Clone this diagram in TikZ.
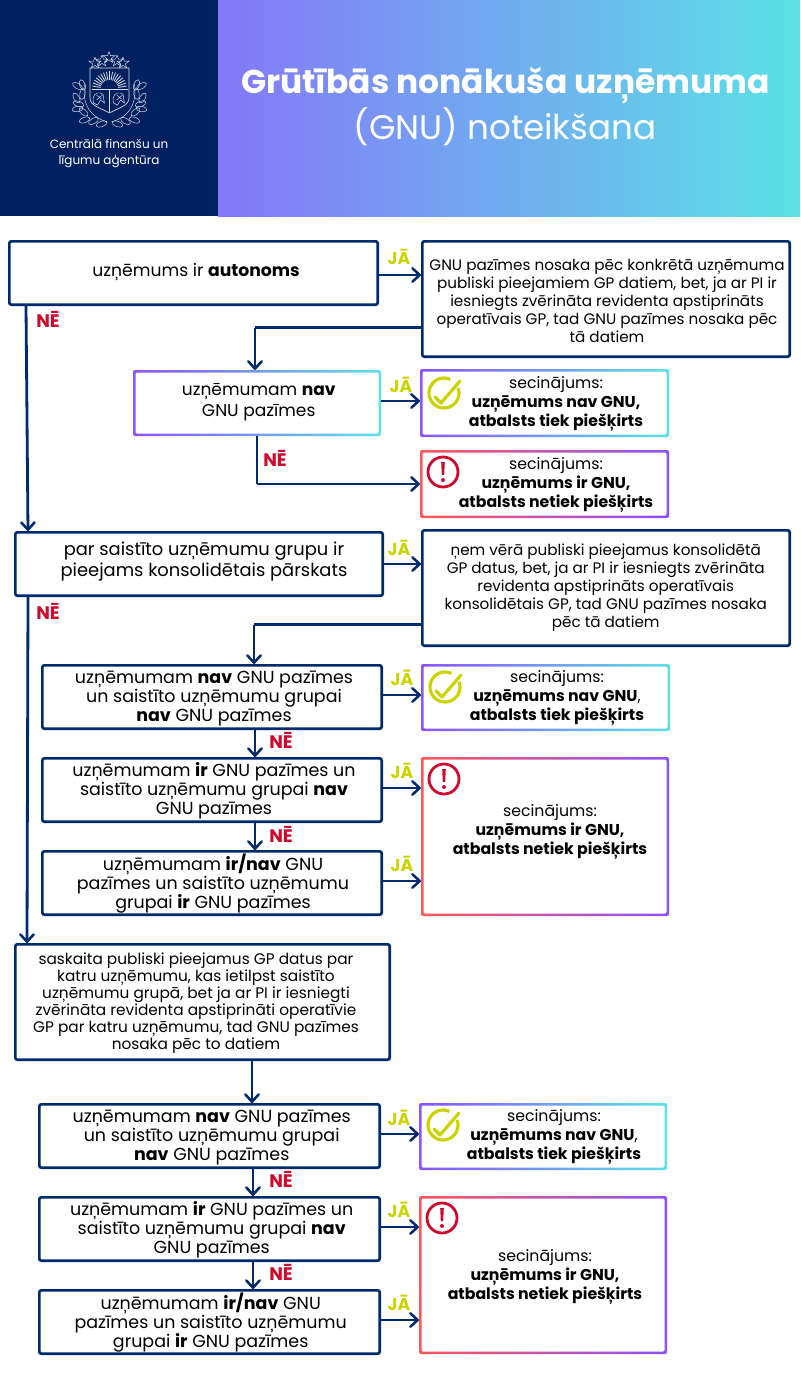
\documentclass[tikz,border=0pt]{standalone}
\usepackage{fontspec}
\setmainfont{Poppins}
\usetikzlibrary{arrows.meta}
\definecolor{navy}{HTML}{002060}
\definecolor{line}{HTML}{002A6E}
\definecolor{ja}{HTML}{CBD400}
\definecolor{ne}{HTML}{CE0A2C}
\definecolor{gp}{HTML}{8C52FF}
\definecolor{gc}{HTML}{5CE1E6}
\definecolor{gr}{HTML}{FF5757}
\definecolor{redi}{HTML}{CE0A2C}
\definecolor{hp}{HTML}{8478F8}
\tikzset{
  x=0.75pt,y=-0.75pt,
  navybox/.style={draw=line,fill=white,line width=2pt,rounded corners=1.5pt,outer sep=1pt,inner sep=0pt},
  whitebox/.style={fill=white,rounded corners=1pt,outer sep=1.9pt,inner sep=0pt},
  conn/.style={draw=line,line width=2.1pt,-{Straight Barb[length=5.5pt,width=10pt,line width=1.9pt,round]}},
  plain/.style={draw=line,line width=2.1pt},
  txt/.style={align=center,inner sep=0pt,text=black,yshift=-1pt,font=\fontsize{13.1pt}{14.25pt}\selectfont},
  txta/.style={txt,font=\fontsize{12.9pt}{15.75pt}\selectfont},
  txtc/.style={txt,font=\fontsize{12.8pt}{15.75pt}\selectfont},
  txtd/.style={txt,font=\fontsize{13.4pt}{15.75pt}\selectfont},
  txti/.style={txt,font=\fontsize{11.4pt}{13.5pt}\selectfont},
  txtj/.style={txt,font=\fontsize{11.5pt}{12.75pt}\selectfont},
  res/.style={txt,font=\fontsize{11.8pt}{14.25pt}\selectfont},
  jalab/.style={inner sep=0pt,text=ja,font=\bfseries\fontsize{12.9pt}{14pt}\selectfont},
  nelab/.style={inner sep=0pt,text=ne,font=\bfseries\fontsize{13.6pt}{14pt}\selectfont},
  logoline/.style={draw=white!85!navy,line width=0.35pt},
}
% navy box: name, x1,y1,x2,y2 (outer pixel edges)
\newcommand\nbox[5]{%
  \pgfmathsetmacro\cx{(#2+#4)/2}\pgfmathsetmacro\cy{(#3+#5)/2}%
  \pgfmathsetmacro\bw{(#4-#2-2.67)*0.75}\pgfmathsetmacro\bh{(#5-#3-2.67)*0.75}%
  \node[navybox,minimum width=\bw pt,minimum height=\bh pt] (#1) at (\cx,\cy) {};}
% gradient box: name, x1,y1,x2,y2, left colour, right colour
\newcommand\gbox[7]{%
  \shade[left color=#6,right color=#7,rounded corners=1.5pt] (#2,#3) rectangle (#4,#5);%
  \pgfmathsetmacro\cx{(#2+#4)/2}\pgfmathsetmacro\cy{(#3+#5)/2}%
  \pgfmathsetmacro\bw{(#4-#2-5)*0.75}\pgfmathsetmacro\bh{(#5-#3-5)*0.75}%
  \node[whitebox,minimum width=\bw pt,minimum height=\bh pt] (#1) at (\cx,\cy) {};}
\newcommand\hlink[3]{\draw[conn] (#1.east |- 0,#3) -- (#2.west |- 0,#3);}
\newcommand\vlink[3]{\draw[conn] (#1.south -| #3,0) -- (#2.north -| #3,0);}
\newcommand\okicon[2]{%
  \draw[ja,line width=2.4pt] (#1,#2) ++(-20:15) arc[start angle=-20,end angle=295,radius=15];
  \draw[ja,line width=2.4pt,line join=round,line cap=round] (#1-9,#2+4) -- (#1-3,#2+10) -- (#1+16,#2-12);}
\newcommand\badicon[2]{%
  \draw[redi,line width=2.1pt] (#1,#2) circle[radius=15];
  \fill[redi] (#1-1.8,#2-10) -- (#1+1.8,#2-10) -- (#1+1.2,#2+3) -- (#1-1.2,#2+3) -- cycle;
  \fill[redi] (#1,#2+8) circle[radius=2];}
\begin{document}
\begin{tikzpicture}
\useasboundingbox (0,0) rectangle (800,1377);
\fill[white] (0,0) rectangle (800,1377);
% header
\fill[navy] (0,0) rectangle (218,216);
\shade[left color=hp,right color=gc] (218,0) rectangle (800,216);
\node[inner sep=0pt,text=white,font=\bfseries\fontsize{24.7pt}{28pt}\selectfont] (title1) at (505.5,85) {Grūtībās nonākuša uzņēmuma};
\node[inner sep=0pt,text=white,font=\fontsize{25.6pt}{28pt}\selectfont] (title2) at (505,127) {(GNU) noteikšana};
\node[align=center,inner sep=0pt,text=white,font=\fontsize{9pt}{12pt}\selectfont] (logotext) at (109,153.5) {Centrālā finanšu un\\līgumu aģentūra};
% coat of arms
\begin{scope}
 \foreach \sx/\sy/\sr in {102/61/6,109/57.5/6,117/61/6,95/63/6,123/63/6}{
  \draw[logoline] plot coordinates {
   (\sx+0,\sy-\sr) (\sx+.25*\sr,\sy-.3*\sr) (\sx+\sr,\sy-.3*\sr) (\sx+.4*\sr,\sy+.15*\sr) (\sx+.6*\sr,\sy+.8*\sr)
   (\sx,\sy+.4*\sr) (\sx-.6*\sr,\sy+.8*\sr) (\sx-.4*\sr,\sy+.15*\sr) (\sx-\sr,\sy-.3*\sr) (\sx-.25*\sr,\sy-.3*\sr) (\sx+0,\sy-\sr)};
 }
 \draw[logoline,line width=0.5pt] (90,68) -- (129,68) -- (129,98) .. controls (129,106) and (118,108) .. (109.5,113) .. controls (101,108) and (90,106) .. (90,98) -- cycle;
 \draw[logoline] (91.5,89.5) -- (127.5,89.5) (109.5,89.5) -- (109.5,112);
 \foreach \a in {180,190,...,360}{
   \draw[logoline,line width=0.6pt] (109.5,89) ++(\a:9) -- ++(\a:8.5);
 }
 \foreach \dx/\dy in {-10/97,10/97}{
   \draw[logoline] (109.5+\dx-6,\dy+6) .. controls (109.5+\dx-8,\dy-2) and (109.5+\dx-3,\dy-5) .. (109.5+\dx+1,\dy-4)
     .. controls (109.5+\dx+6,\dy-3) and (109.5+\dx+3,\dy+1) .. (109.5+\dx+5,\dy+6) -- (109.5+\dx+1,\dy+3) -- (109.5+\dx-2,\dy+8) -- cycle;
   \draw[logoline] (109.5+\dx-3,\dy-2) -- (109.5+\dx+2,\dy+2) (109.5+\dx-3,\dy+3) -- (109.5+\dx+3,\dy-2);
 }
 \foreach \s in {-1,1}{
  \foreach \dx/\ly/\ang in {27/85/70,32/86/30,27/94/100,33/98/60,31/104/20,32/109/-10,26/112/40,25/120/-20,16/121/-30,8/124/-20}{
   \draw[logoline,rotate around={\s*\ang:(109.5+\s*\dx,\ly)}] (109.5+\s*\dx,\ly) ellipse[x radius=5.5,y radius=2.8];
  }
  \draw[logoline] (109.5+\s*2,122) .. controls (109.5+\s*16,118) and (109.5+\s*28,108) .. (109.5+\s*25,84);
 }
\end{scope}
% boxes
\nbox{A}{8}{240}{379}{306}
\nbox{B}{421}{240}{791}{358}
\gbox{C}{133}{370}{381}{436}{gp}{gc}
\gbox{Ra}{420}{369}{669}{437}{gp}{gc}
\gbox{Rb}{420}{450}{669}{518}{gr}{gp}
\nbox{D}{14}{531}{384}{597}
\nbox{E}{421}{529}{791}{647}
\nbox{F}{41}{664}{383}{730}
\nbox{G}{41}{757}{383}{823}
\nbox{H}{41}{850}{383}{916}
\gbox{Rc}{421}{664}{670}{731}{gp}{gc}
\gbox{Rd}{421}{757}{669}{916}{gr}{gp}
\nbox{I}{14}{943}{391}{1061}
\nbox{J}{38}{1103}{381}{1169}
\nbox{K}{38}{1196}{381}{1262}
\nbox{L}{38}{1289}{381}{1355}
\gbox{Re}{419}{1103}{667}{1170}{gp}{gc}
\gbox{Rf}{419}{1196}{667}{1354}{gr}{gp}
% texts
\node[txta] (tA) at (196,271) {uzņēmums ir \textbf{autonoms}};
\node[txti] (tB) at (607,299.5) {GNU pazīmes nosaka pēc konkrētā uzņēmuma\\publiski pieejamiem GP datiem, bet, ja ar PI ir\\iesniegts zvērināta revidenta apstiprināts\\operatīvais GP, tad GNU pazīmes nosaka pēc\\tā datiem};
\node[txtc] (tC) at (258.7,400.5) {uzņēmumam \textbf{nav}\\GNU pazīmes};
\node[res] (tRa) at (556,403) {secinājums:\\\textbf{uzņēmums nav GNU,}\\\textbf{atbalsts tiek piešķirts}};
\node[res] (tRb) at (556,484) {secinājums:\\\textbf{uzņēmums ir GNU,}\\\textbf{atbalsts netiek piešķirts}};
\node[txtd] (tD) at (204,560.5) {par saistīto uzņēmumu grupu ir\\pieejams konsolidētais pārskats};
\node[txti] (tE) at (605.7,586) {ņem vērā publiski pieejamus konsolidētā\\GP datus, bet, ja ar PI ir iesniegts zvērināta\\revidenta apstiprināts operatīvais\\konsolidētais GP, tad GNU pazīmes nosaka\\pēc tā datiem};
\node[txt] (tF) at (214,697) {uzņēmumam \textbf{nav} GNU pazīmes\\un saistīto uzņēmumu grupai\\\textbf{nav} GNU pazīmes};
\node[txt] (tG) at (214,789) {uzņēmumam \textbf{ir} GNU pazīmes un\\saistīto uzņēmumu grupai \textbf{nav}\\GNU pazīmes};
\node[txt] (tH) at (213,882) {uzņēmumam \textbf{ir/nav} GNU\\pazīmes un saistīto uzņēmumu\\grupai \textbf{ir} GNU pazīmes};
\node[res] (tRc) at (557,697) {secinājums:\\\textbf{uzņēmums nav GNU},\\\textbf{atbalsts tiek piešķirts}};
\node[res] (tRd) at (550,831) {secinājums:\\\textbf{uzņēmums ir GNU,}\\\textbf{atbalsts netiek piešķirts}};
\node[txtj] (tI) at (196,1001.5) {saskaita publiski pieejamus GP datus par\\katru uzņēmumu, kas ietilpst saistīto\\uzņēmumu grupā, bet ja ar PI ir iesniegti\\zvērināta revidenta apstiprināti operatīvie\\GP par katru uzņēmumu, tad GNU pazīmes\\nosaka pēc to datiem};
\node[txt] (tJ) at (211.7,1136) {uzņēmumam \textbf{nav} GNU pazīmes\\un saistīto uzņēmumu grupai\\\textbf{nav} GNU pazīmes};
\node[txt] (tK) at (211.7,1228) {uzņēmumam \textbf{ir} GNU pazīmes un\\saistīto uzņēmumu grupai \textbf{nav}\\GNU pazīmes};
\node[txt] (tL) at (210.7,1321) {uzņēmumam \textbf{ir/nav} GNU\\pazīmes un saistīto uzņēmumu\\grupai \textbf{ir} GNU pazīmes};
\node[res] (tRe) at (554,1136) {secinājums:\\\textbf{uzņēmums nav GNU},\\\textbf{atbalsts tiek piešķirts}};
\node[res] (tRf) at (545,1276) {secinājums:\\\textbf{uzņēmums ir GNU,}\\\textbf{atbalsts netiek piešķirts}};
% connectors
\hlink{A}{B}{275}
\coordinate (qa) at (255,327.5);
\draw[plain] (B.west |- qa) -- (qa);
\draw[conn] (qa) -- (qa |- C.north);
\hlink{C}{Ra}{401}
\coordinate (qb) at (257,484);
\draw[plain] (C.south -| qb) -- (qb);
\draw[conn] (qb) -- (Rb.west |- qb);
\coordinate (qc) at (26,0);\coordinate (qd) at (28,0);\coordinate (qe) at (27,0);
\draw[conn] (A.south -| qc) -- (D.north -| qd);
\hlink{D}{E}{564}
\draw[conn] (D.south -| qd) -- (I.north -| qe);
\coordinate (qf) at (254,624.5);
\draw[plain] (E.west |- qf) -- (qf);
\draw[conn] (qf) -- (qf |- F.north);
\hlink{F}{Rc}{695}
\vlink{F}{G}{255}
\hlink{G}{Rd}{788}
\vlink{G}{H}{255}
\hlink{H}{Rd}{881}
\vlink{I}{J}{252}
\hlink{J}{Re}{1134}
\vlink{J}{K}{253}
\hlink{K}{Rf}{1227}
\vlink{K}{L}{253}
\hlink{L}{Rf}{1320}
% labels
\node[jalab] (ja1) at (399,257) {JĀ};
\node[jalab] (ja2) at (401,385) {JĀ};
\node[jalab] (ja3) at (399,548) {JĀ};
\node[jalab] (ja4) at (402,678) {JĀ};
\node[jalab] (ja5) at (402,771) {JĀ};
\node[jalab] (ja6) at (402,864) {JĀ};
\node[jalab] (ja7) at (399,1118) {JĀ};
\node[jalab] (ja8) at (399,1210) {JĀ};
\node[jalab] (ja9) at (399,1303) {JĀ};
\node[nelab] (ne1) at (48,319) {NĒ};
\node[nelab] (ne2) at (275,458) {NĒ};
\node[nelab] (ne3) at (48,611) {NĒ};
\node[nelab] (ne4) at (281,740) {NĒ};
\node[nelab] (ne5) at (281,834) {NĒ};
\node[nelab] (ne6) at (281,1179) {NĒ};
\node[nelab] (ne7) at (281,1272) {NĒ};
% icons
\okicon{444}{393}
\okicon{445}{687}
\okicon{443}{1125}
\badicon{443}{472}
\badicon{444}{779}
\badicon{442}{1218}
\end{tikzpicture}
\end{document}
